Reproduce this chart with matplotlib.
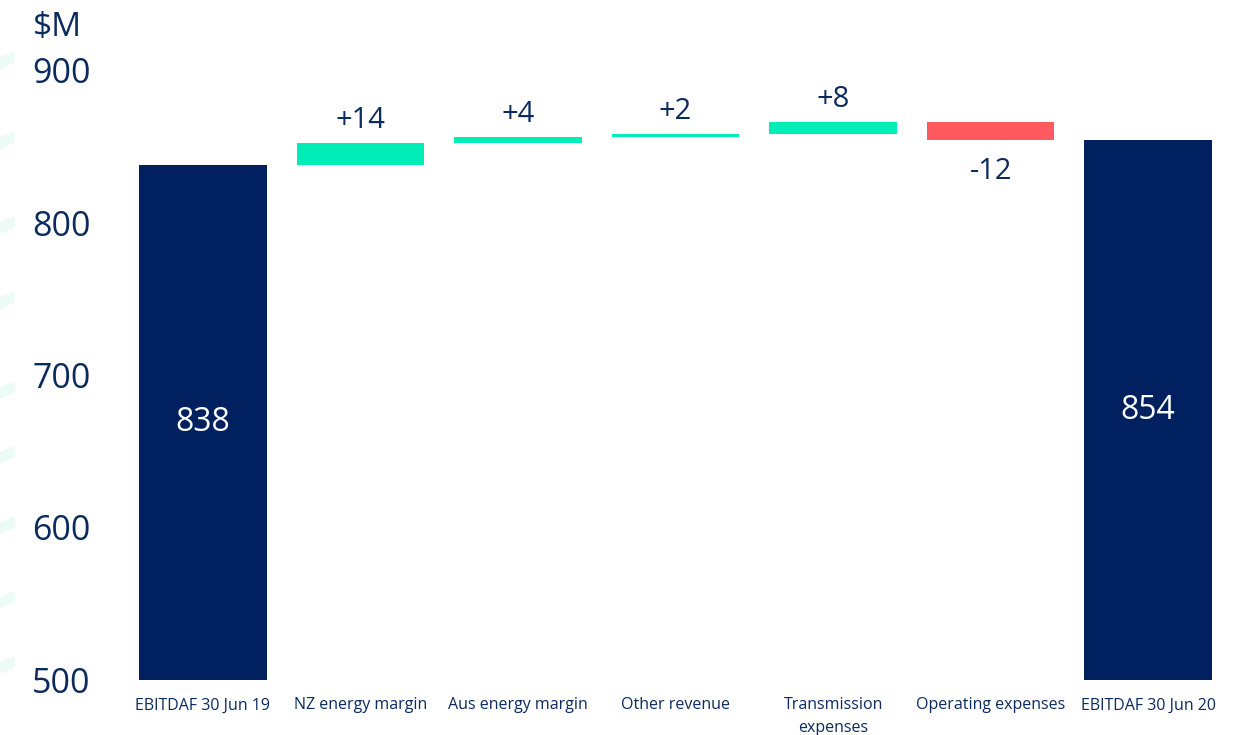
import matplotlib
matplotlib.use("Agg")
import matplotlib.pyplot as plt
from matplotlib.patches import Polygon
import numpy as np

categories = ["EBITDAF 30 Jun 19", "NZ energy margin", "Aus energy margin",
              "Other revenue", "Transmission\nexpenses", "Operating expenses",
              "EBITDAF 30 Jun 20"]
start_value = 838
changes = [14, 4, 2, 8, -12]
end_value = 854
change_labels = ["+14", "+4", "+2", "+8", "-12"]
yticks = [500, 600, 700, 800, 900]

NAVY = "#002060"
TEXT = "#0b2a5e"
TEAL = "#00edb8"
RED = "#ff5a5f"
FONT = "Open Sans"

fig = plt.figure(figsize=(12.34, 7.35), dpi=100)
ax = fig.add_axes([124/1234, 55/735, 1103/1234, 610/735])
base = 500
x = np.arange(len(categories))
w = 0.81

# totals
ax.bar(x[0], start_value - base, bottom=base, width=w, color=NAVY)
ax.bar(x[-1], end_value - base, bottom=base, width=w, color=NAVY)
ax.text(x[0], (start_value + base) / 2, str(start_value), ha="center", va="center",
        color="white", fontsize=23, family=FONT)
ax.text(x[-1], (end_value + base) / 2, str(end_value), ha="center", va="center",
        color="white", fontsize=23, family=FONT)

running = start_value
for i, (c, lab) in enumerate(zip(changes, change_labels), start=1):
    lo, hi = (running, running + c) if c > 0 else (running + c, running)
    ax.bar(x[i], hi - lo, bottom=lo, width=w, color=TEAL if c > 0 else RED)
    if c > 0:
        ax.annotate(lab, (x[i], hi), xytext=(0, 6), textcoords="offset points",
                    ha="center", va="bottom", color=TEXT, fontsize=21, family=FONT)
    else:
        ax.annotate(lab, (x[i], lo), xytext=(0, -12), textcoords="offset points",
                    ha="center", va="top", color=TEXT, fontsize=21, family=FONT)
    running += c

ax.set_xlim(-0.5, len(categories) - 0.5)
ax.set_ylim(500, 900)
ax.set_yticks(yticks)
ax.set_yticklabels([str(t) for t in yticks], fontsize=24.5, color=TEXT, family=FONT)
ax.set_xticks(x)
ax.set_xticklabels(categories, fontsize=11.5, color=TEXT, family=FONT, linespacing=1.55)
ax.tick_params(axis="y", length=0, pad=24)
ax.tick_params(axis="x", length=0, pad=12.5)
for s in ax.spines.values():
    s.set_visible(False)

fig.text(33/1234, 1 - 28/735, "$M", fontsize=24, color=TEXT, family=FONT,
         ha="left", va="center")

# faint decorative strokes on the left edge
for yy in [60, 140, 225, 300, 390, 455, 525, 600, 665]:
    poly = Polygon([[0, 1 - (yy + 8)/735], [14/1234, 1 - (yy + 2)/735],
                    [14/1234, 1 - (yy - 8)/735], [0, 1 - (yy - 2)/735]],
                   closed=True, transform=fig.transFigure, color="#ecfbf6", zorder=0)
    fig.patches.append(poly)

fig.savefig("out.png", dpi=100)
